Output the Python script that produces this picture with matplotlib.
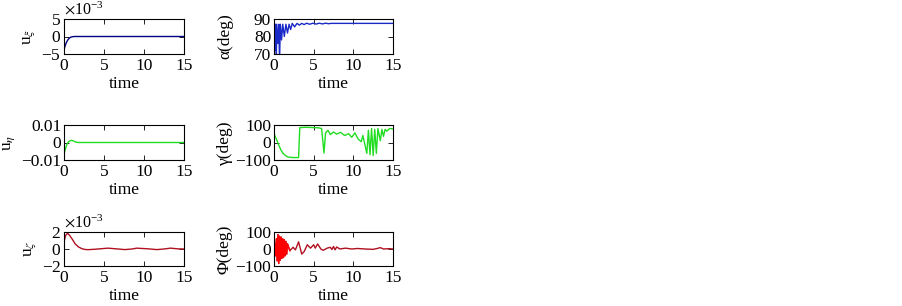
import matplotlib
matplotlib.use("Agg")
import matplotlib.pyplot as plt
from matplotlib.ticker import FuncFormatter, ScalarFormatter

plt.rcParams['font.family'] = ['Liberation Serif', 'DejaVu Serif']
plt.rcParams['mathtext.fontset'] = 'stix'
plt.rcParams['axes.unicode_minus'] = True

# ---- data ----
t_uxi = [0, 0.15, 0.3, 0.5, 0.7, 0.9, 1.1, 1.3, 1.6, 15]
u_xi = [-3.8e-3, -2.6e-3, -1.7e-3, -0.9e-3, -0.4e-3, -0.15e-3, -0.05e-3, 0.0, 0.0, 0.0]

t_alpha = [0, 0.1, 0.2, 0.3, 0.35, 0.5, 0.6, 0.7, 0.8, 0.95, 1.1, 1.3, 1.5, 1.7, 1.9,
           2.1, 2.3, 2.6, 2.9, 3.2, 3.5, 3.8, 4.1, 4.5, 4.9, 5.3, 5.7, 6.1, 6.5, 6.9, 7.2, 15]
alpha = [87, 72, 87, 70, 87, 76, 87, 66, 87, 78, 87, 80, 87, 82, 87,
         84, 87.5, 85.5, 87.5, 86.5, 87.5, 86.8, 87.6, 87.0, 87.6, 87.1, 87.6, 87.2, 87.6, 87.3, 87.5, 87.5]

t_ueta = [0, 0.15, 0.3, 0.45, 0.6, 0.8, 1.0, 1.2, 1.5, 1.8, 15]
u_eta = [-0.007, -0.004, -0.0018, -0.0004, 0.0005, 0.0011, 0.0012, 0.0008, 0.0002, 0.0, 0.0]

t_gamma = [0, 0.3, 0.6, 0.9, 1.2, 1.6, 2.0, 2.5, 3.1, 3.25, 4.0, 5.0, 5.6, 6.0, 6.3, 6.5, 6.8,
           7.1, 7.5, 7.9, 8.4, 8.9, 9.4, 9.8, 10.2, 10.6, 11.0, 11.2, 11.7, 11.9, 12.1, 12.3,
           12.5, 12.7, 12.9, 13.1, 13.4, 13.6, 13.8, 14.0, 14.2, 14.6, 15]
gamma = [50, 20, -15, -45, -65, -80, -85, -86, -86, 85, 87, 85, 84, 80, -60, 55, 70,
         45, 60, 48, 58, 40, 50, 30, 55, 20, 5, 40, -62, 70, -70, 80, -75, 75, -62, 80, 10, 75, 35, 75, 65, 80, 78]

t_phi = [0, 0.1, 0.2, 0.3, 0.4, 0.5, 0.6, 0.7, 0.8, 0.9, 1.0, 1.1, 1.2, 1.3, 1.4, 1.5, 1.6, 1.7,
         2.0, 2.4, 2.7, 3.1, 3.5, 3.8, 4.2, 4.6, 5.0, 5.2, 5.5, 5.9, 6.2, 6.7, 7.1, 7.3, 7.5,
         7.7, 7.9, 8.3, 9.0, 9.8, 10.5, 11.5, 12.5, 13.0, 13.4, 13.8, 14.5, 15]
phi = [0, 30, -40, 60, -70, 85, -85, 75, -65, 70, -55, 60, -50, 55, -40, 45, -30, 30,
       -10, 10, -5, 42, -30, -15, 25, 5, 25, 5, 30, 0, -8, 5, 10, -3, 15,
       -5, 12, 0, 5, 0, 3, 0, -2, 3, 8, 0, 2, 0]
phi_red_end = 19  # points in the early bright-red segment

t_uzeta = [0, 0.2, 0.45, 0.7, 1.0, 1.4, 1.8, 2.2, 2.6, 3.0, 4.0, 5.5, 6.5, 7.6, 8.5, 9.1, 10.5, 11.6, 12.5, 13.3, 14.2, 15]
u_zeta = [0.8e-3, 1.6e-3, 1.85e-3, 1.6e-3, 1.2e-3, 0.6e-3, 0.25e-3, 0.05e-3, -0.05e-3, -0.08e-3,
          -0.02e-3, 0.1e-3, 0.02e-3, -0.07e-3, 0.0, 0.1e-3, 0.02e-3, -0.07e-3, 0.0, 0.1e-3, 0.02e-3, 0.0]

xticks = [0, 5, 10, 15]

W, H = 903, 306
fig = plt.figure(figsize=(W / 100, H / 100), dpi=100)

def axes_at(x0, y0, x1, y1):
    return fig.add_axes([x0 / W, 1 - y1 / H, (x1 - x0) / W, (y1 - y0) / H])

FS = 12.5

def style(ax, ylabel, ylim, yticks, label_x=None):
    ax.set_xlim(0, 15)
    ax.set_ylim(*ylim)
    ax.set_xticks(xticks)
    ax.set_yticks(yticks)
    ax.tick_params(direction='in', top=True, right=True, length=3.5, width=0.6,
                   labelsize=FS, pad=2)
    ax.tick_params(axis='x', pad=3)
    for s in ax.spines.values():
        s.set_linewidth(0.8)
    ax.set_xlabel('time', fontsize=FS, labelpad=1)
    ax.set_ylabel(ylabel, fontsize=FS, labelpad=3)
    if label_x is not None:
        ax.yaxis.set_label_coords(label_x, 0.5)

gfmt = FuncFormatter(lambda v, p: ('%g' % v).replace('-', '\u2212'))

def sci(ax):
    f = ScalarFormatter(useMathText=True)
    f.set_powerlimits((0, 0))
    ax.yaxis.set_major_formatter(f)
    ax.yaxis.get_offset_text().set_fontsize(FS - 1)

COL2_LABEL_X = -0.345

ax1 = axes_at(64, 19, 184, 54)
ax1.plot(t_uxi, u_xi, color='#000080', lw=1)
style(ax1, r'u$_{\xi}$', (-5e-3, 5e-3), [-5e-3, 0, 5e-3])
sci(ax1)

ax2 = axes_at(274, 19, 393, 54)
ax2.plot(t_alpha, alpha, color='#1a2ac8', lw=1)
style(ax2, '\u03b1(deg)', (70, 90), [70, 80, 90], COL2_LABEL_X)
ax2.yaxis.set_major_formatter(gfmt)

ax3 = axes_at(64, 125, 184, 160)
ax3.plot(t_ueta, u_eta, color='#20dd20', lw=1)
style(ax3, r'u$_{\eta}$', (-0.01, 0.01), [-0.01, 0, 0.01])
ax3.yaxis.set_major_formatter(gfmt)

ax4 = axes_at(274, 125, 393, 160)
ax4.plot(t_gamma, gamma, color='#20dd20', lw=1)
style(ax4, '\u03b3(deg)', (-100, 100), [-100, 0, 100], COL2_LABEL_X)
ax4.yaxis.set_major_formatter(gfmt)

ax5 = axes_at(64, 232, 184, 266)
ax5.plot(t_uzeta, u_zeta, color='#b01020', lw=1)
style(ax5, r'u$_{\zeta}$', (-2e-3, 2e-3), [-2e-3, 0, 2e-3])
sci(ax5)

ax6 = axes_at(274, 232, 393, 266)
ax6.plot(t_phi, phi, color='#b01020', lw=1)
ax6.plot(t_phi[:phi_red_end], phi[:phi_red_end], color='#ff0000', lw=1)
style(ax6, '\u03a6(deg)', (-100, 100), [-100, 0, 100], COL2_LABEL_X)
ax6.yaxis.set_major_formatter(gfmt)

fig.savefig('out.png', dpi=100)
